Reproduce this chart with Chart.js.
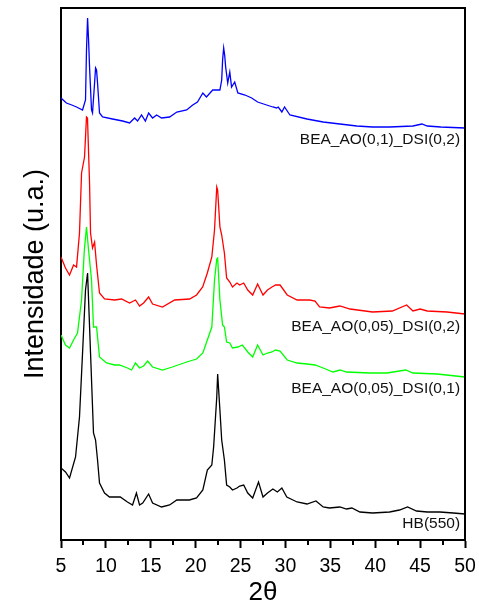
<!DOCTYPE html>
<html>
<head>
<meta charset="utf-8">
<script src="https://cdn.jsdelivr.net/npm/chart.js@4.4.1/dist/chart.umd.min.js"></script>
<style>
html,body{margin:0;padding:0;background:#fff;}
#wrap{width:479px;height:608px;position:relative;}
</style>
</head>
<body>
<div id="wrap"><canvas id="c" width="479" height="608"></canvas></div>
<script>
// 2θ positions and offset intensities (u.a.)
const hbX = [5.0,5.5,5.95,6.62,7.06,7.4,7.73,7.96,8.29,8.62,8.85,9.07,9.29,9.85,10.4,10.97,11.6,12.4,12.97,13.4,13.75,14.1,14.76,15.2,16.2,17.1,17.9,19.3,20.1,20.8,21.3,21.8,22.0,22.35,22.45,22.7,22.9,23.2,23.45,23.8,24.1,24.6,24.9,25.35,25.8,26.35,27.0,27.5,28.0,28.6,29.1,29.6,30.15,31.3,32.4,33.4,34.2,34.9,36.06,36.8,37.4,38.3,39.7,41.6,42.7,43.6,44.6,45.8,47.2,48.7,50.0];
const hbY = [72,68,62,83,123,187,250,267,187,107,100,80,57,47,43,43,43,38,35,47,35,37,46,37,33,35,40,40,42,50,70,75,93,143,166,130,100,80,55,53,50,52,54,55,47,42,58,43,47,51,48,52,43,38,36,39,33,32,33,31,32,28,27,28,30,33,29,28,28,27,26];

const g1X = [5.0,5.5,5.95,6.4,6.84,7.29,7.6,7.84,8.07,8.4,8.62,8.96,9.29,10.07,10.97,11.5,12.4,12.86,13.3,13.75,14.2,14.65,15.2,16.3,17.4,19.0,20.1,20.8,21.3,21.8,22.1,22.35,22.45,22.7,23.0,23.2,23.45,23.8,24.1,24.7,25.2,25.8,26.35,26.9,27.5,28.0,28.5,28.9,29.4,30.2,31.3,32.4,33.3,34.2,35.3,36.1,36.8,39.4,41.3,43.4,44.2,46.9,50.0];
const g1Y = [205,195,192,200,207,240,290,313,290,260,213,213,183,177,175,175,172,170,177,172,174,179,173,170,173,178,181,187,200,213,260,281,282,240,215,213,198,197,192,193,195,188,183,195,185,187,188,190,189,180,177,176,175,172,168,170,168,167,167,170,167,166,163];

const r1X = [5.0,5.5,5.95,6.4,6.73,7.06,7.29,7.62,7.84,7.95,8.18,8.29,8.51,8.74,8.96,9.29,9.85,10.97,11.75,12.64,13.3,13.75,14.2,14.76,15.2,16.3,17.66,19.33,20.1,20.78,21.3,21.8,22.1,22.35,22.45,22.7,22.9,23.2,23.45,23.8,24.1,24.6,24.9,25.35,25.8,26.35,26.9,27.5,28.0,28.5,28.9,29.4,30.2,31.3,32.7,33.3,33.8,34.9,36.06,37.2,39.7,41.9,43.5,44.2,45.0,45.8,48.0,50.0];
const r1Y = [283,272,265,275,273,307,367,383,423,422,357,307,292,298,275,247,241,240,241,237,240,234,237,243,236,233,240,241,245,253,267,283,310,353,350,313,305,287,262,258,253,257,255,257,250,245,256,245,250,253,255,255,245,240,240,239,233,232,234,231,228,229,235,229,231,229,228,226];

const b1X = [5.0,5.6,6.2,6.73,7.4,7.73,7.84,7.96,8.07,8.18,8.4,8.51,8.74,8.85,8.96,9.07,9.29,9.63,10.74,11.86,12.64,13.2,13.53,13.97,14.4,14.76,15.2,15.65,16.2,17.1,17.9,19.0,19.67,20.2,20.8,21.2,21.9,22.7,22.9,23.0,23.12,23.23,23.34,23.57,23.8,24.0,24.35,24.7,25.5,26.24,26.9,27.9,28.6,29.0,29.2,29.6,29.9,30.5,32.4,34.2,36.06,37.95,39.7,41.6,44.2,45.2,45.8,47.3,50.0];
const b1Y = [442,437,435,433,430,440,490,522,500,473,430,427,457,472,470,457,427,423,421,419,417,422,419,425,419,427,422,425,422,423,428,430,435,438,447,443,450,450,460,480,492,485,473,457,468,453,458,447,445,442,438,435,433,432,433,428,433,425,421,418,416,414,413,413,414,416,414,413,412];

const seriesNames = ['HB(550)','BEA_AO(0,05)_DSI(0,1)','BEA_AO(0,05)_DSI(0,2)','BEA_AO(0,1)_DSI(0,2)'];
const seriesColors = ['#000000','#00ff00','#ff0000','#0000ff'];
const labelY = [16,151,213,400];   // vertical position of each curve label (u.a.)
const labelX = 49.45;              // right edge of labels (2θ)
const xTicks = [5,10,15,20,25,30,35,40,45,50];
const xMinorTicks = [7.5,12.5,17.5,22.5,27.5,32.5,37.5,42.5,47.5];

const xs = [hbX,g1X,r1X,b1X];
const ys = [hbY,g1Y,r1Y,b1Y];
const datasets = seriesNames.map((n,i)=>({
  label:n,
  data: xs[i].map((x,j)=>({x:x,y:ys[i][j]})),
  borderColor: seriesColors[i],
  borderWidth: 1.3,
  pointRadius: 0,
  tension: 0,
  fill: false
}));

const FONT = "'Liberation Sans', Arial, sans-serif";

const framePlugin = {
  id:'frame',
  afterDraw(chart){
    const {ctx, chartArea:a, scales} = chart;
    const xs = scales.x;
    ctx.save();
    ctx.strokeStyle = '#000';
    ctx.lineWidth = 2;
    ctx.beginPath();
    ctx.moveTo(a.left, a.top); ctx.lineTo(a.right, a.top); ctx.lineTo(a.right, a.bottom);
    ctx.stroke();
    // minor ticks
    xMinorTicks.forEach(v=>{
      const px = Math.round(xs.getPixelForValue(v));
      ctx.beginPath(); ctx.moveTo(px, a.bottom); ctx.lineTo(px, a.bottom+5); ctx.stroke();
    });
    // curve labels
    ctx.fillStyle = '#111';
    ctx.font = '15.5px ' + FONT;
    ctx.textAlign = 'right';
    ctx.textBaseline = 'middle';
    seriesNames.forEach((n,i)=>{
      ctx.fillText(n, xs.getPixelForValue(labelX), scales.y.getPixelForValue(labelY[i]));
    });
    ctx.restore();
  }
};

new Chart(document.getElementById('c'), {
  type:'line',
  data:{datasets},
  options:{
    responsive:false,
    animation:false,
    layout:{padding:{left:0,right:14,top:8,bottom:0}},
    plugins:{legend:{display:false}, tooltip:{enabled:false}},
    scales:{
      x:{
        type:'linear', min:5, max:50,
        afterBuildTicks: s => { s.ticks = xTicks.map(v=>({value:v})); },
        afterFit: s => { s.height = 68; s.paddingLeft = 0; s.paddingRight = 0; },
        ticks:{color:'#000', font:{family:FONT, size:19.5}, padding:7, maxRotation:0},
        grid:{display:true, drawOnChartArea:false, tickLength:8, tickWidth:2, tickColor:'#000'},
        border:{display:true, color:'#000', width:2},
        title:{display:true, text:'2θ', color:'#000', font:{family:FONT, size:26}, padding:{top:0,bottom:0}}
      },
      y:{
        min:0, max:532,
        afterFit: s => { s.width = 61; },
        ticks:{display:false},
        grid:{display:false},
        border:{display:true, color:'#000', width:2},
        title:{display:true, text:'Intensidade (u.a.)', color:'#000', font:{family:FONT, size:27}, padding:{top:19,bottom:0}}
      }
    }
  },
  plugins:[framePlugin]
});
</script>
</body>
</html>
